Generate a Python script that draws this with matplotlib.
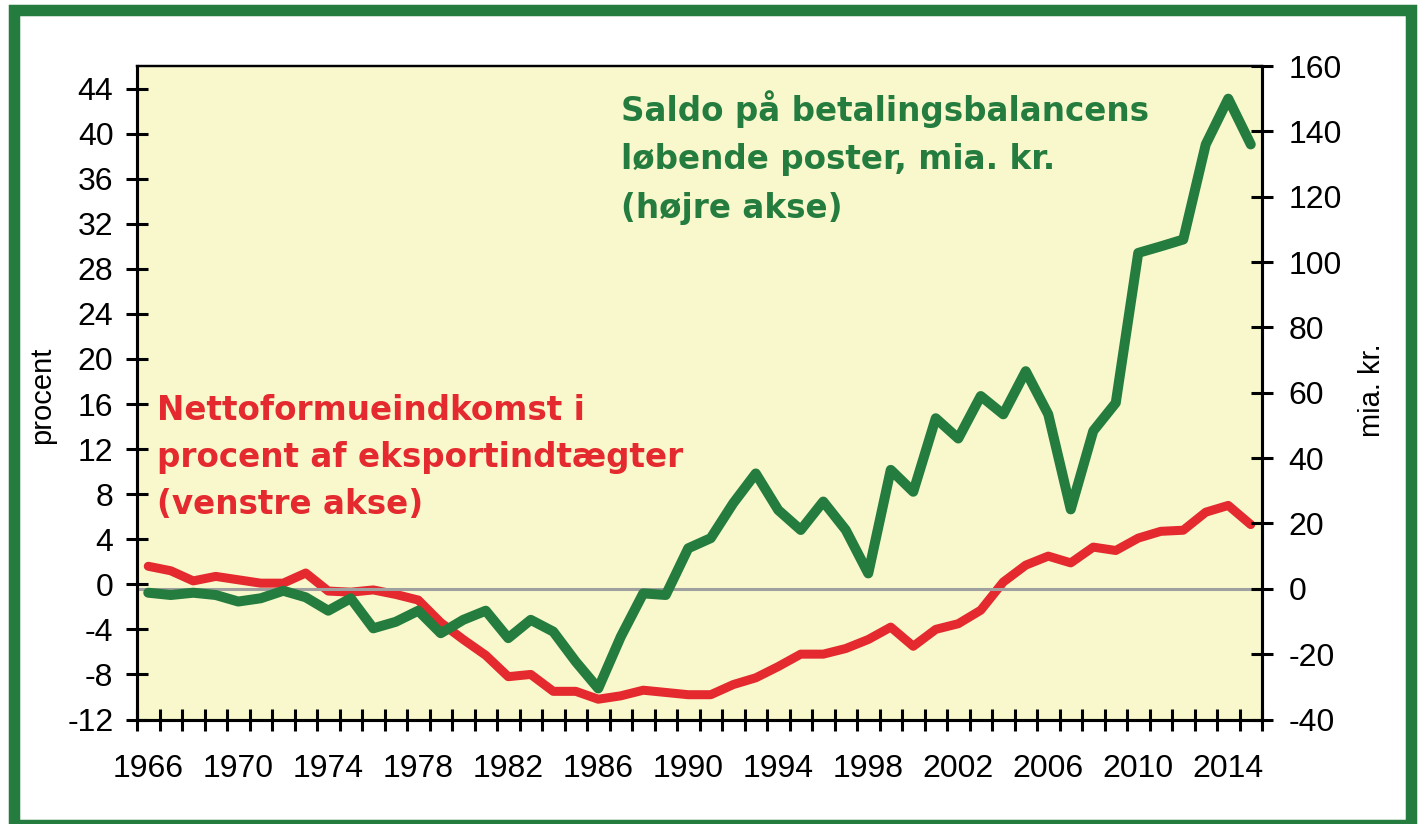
import matplotlib
matplotlib.use("Agg")
import matplotlib.pyplot as plt
from matplotlib.patches import Rectangle
import numpy as np

plt.rcParams['font.family'] = ['Liberation Sans', 'DejaVu Sans']

years = list(range(1966, 2016))

# Nettoformueindkomst i procent af eksportindtægter (venstre akse)
netto_pct = [1.6, 1.2, 0.3, 0.7, 0.4, 0.1, 0.1, 1.0, -0.6, -0.7,
             -0.5, -0.9, -1.4, -3.4, -4.9, -6.3, -8.2, -8.0, -9.5, -9.5,
             -10.2, -9.9, -9.4, -9.6, -9.8, -9.8, -8.9, -8.3, -7.3, -6.2,
             -6.2, -5.7, -4.9, -3.8, -5.5, -4.0, -3.5, -2.3, 0.2, 1.7,
             2.5, 1.9, 3.3, 3.0, 4.1, 4.7, 4.8, 6.4, 7.0, 5.3]

# Saldo på betalingsbalancens løbende poster, mia. kr. (højre akse)
saldo_mia = [-1.2, -1.9, -1.2, -1.9, -3.9, -2.9, -0.6, -2.6, -6.7, -2.9,
             -12.1, -10.1, -6.7, -13.6, -9.5, -6.7, -15.1, -9.5, -13.1, -22.3,
             -30.5, -14.7, -1.4, -1.9, 12.4, 15.5, 26.2, 35.3, 24.1, 18.0,
             26.7, 18.0, 4.7, 36.4, 29.7, 52.2, 46.0, 59.0, 53.4, 66.6,
             53.4, 24.3, 48.3, 56.9, 102.8, 104.8, 106.9, 136.0, 150.0, 136.0]

left_ticks = list(range(-12, 45, 4))
right_ticks = list(range(-40, 161, 20))
xlabel_years = list(range(1966, 2015, 4))

GREEN = "#247C3E"
RED = "#E4292F"
BG = "#F8F8CC"
GRAY = "#A0A0A0"

W, H = 1418, 824
fig = plt.figure(figsize=(W / 100, H / 100), dpi=100)
fig.patch.set_facecolor("white")

left, right, top, bottom = 137, 1262, 66, 719.5
ax = fig.add_axes([left / W, 1 - bottom / H, (right - left) / W, (bottom - top) / H])
ax.set_facecolor(BG)
ax2 = ax.twinx()

ax.set_xlim(1965.5, 2015.5)
ax.set_ylim(-12, 46)
ax2.set_ylim(-40, 160)

ax2.axhline(0, color=GRAY, lw=2.2, zorder=1)
ax.plot(years, netto_pct, color=RED, lw=6.5, solid_joinstyle='round',
        solid_capstyle='round', zorder=3)
ax2.plot(years, saldo_mia, color=GREEN, lw=7.2, solid_joinstyle='round',
         solid_capstyle='round', zorder=3)

# ticks
ax.set_yticks(left_ticks)
ax.set_yticklabels([str(v) for v in left_ticks])
ax2.set_yticks(right_ticks)
ax2.set_yticklabels([str(v) for v in right_ticks])

ax.set_xticks(xlabel_years)
ax.set_xticklabels([str(y) for y in xlabel_years])
ax.set_xticks(np.arange(1965.5, 2016, 1.0), minor=True)

ax.tick_params(axis='x', which='major', length=0, pad=25, labelsize=23)
ax.tick_params(axis='x', which='minor', direction='inout', length=16, width=2.2)
ax.tick_params(axis='y', which='major', direction='inout', length=16, width=2.2,
               pad=9, labelsize=23)
ax2.tick_params(axis='y', which='major', direction='inout', length=16, width=2.2,
                pad=11, labelsize=23)
ax.tick_params(axis='x', which='both', top=False)
ax2.tick_params(axis='x', which='both', top=False, bottom=False)

for a in (ax, ax2):
    for s in ('left', 'right', 'bottom'):
        a.spines[s].set_linewidth(2.2)
    a.spines['top'].set_linewidth(1.6)
    for s in a.spines.values():
        s.set_color('black')

# axis titles
fig.text(42 / W, 1 - 395 / H, "procent", rotation=90, ha='center', va='center',
         fontsize=21)
fig.text(1372 / W, 1 - 390 / H, "mia. kr.", rotation=90, ha='center', va='center',
         fontsize=21)

# series annotations
ann_font = ['DejaVu Sans']
green_lines = ["Saldo på betalingsbalancens", "løbende poster, mia. kr.", "(højre akse)"]
for txt, yb in zip(green_lines, [120.5, 169.5, 218]):
    fig.text(621 / W, 1 - yb / H, txt, color=GREEN, fontsize=23.5, fontweight='bold',
             family=ann_font, ha='left', va='baseline')

red_lines = ["Nettoformueindkomst i", "procent af eksportindtægter", "(venstre akse)"]
for txt, yb in zip(red_lines, [420.5, 467, 514]):
    fig.text(157 / W, 1 - yb / H, txt, color=RED, fontsize=23.5, fontweight='bold',
             family=ann_font, ha='left', va='baseline')

# green frame
lw_px = 11.5
fig.patches.append(Rectangle((14 / W, 1 - 825 / H), (1411 - 14) / W, (825 - 10) / H,
                             transform=fig.transFigure, fill=False, edgecolor=GREEN,
                             linewidth=lw_px * 0.72, zorder=10))

fig.savefig("out.png", dpi=100, facecolor=fig.get_facecolor())
